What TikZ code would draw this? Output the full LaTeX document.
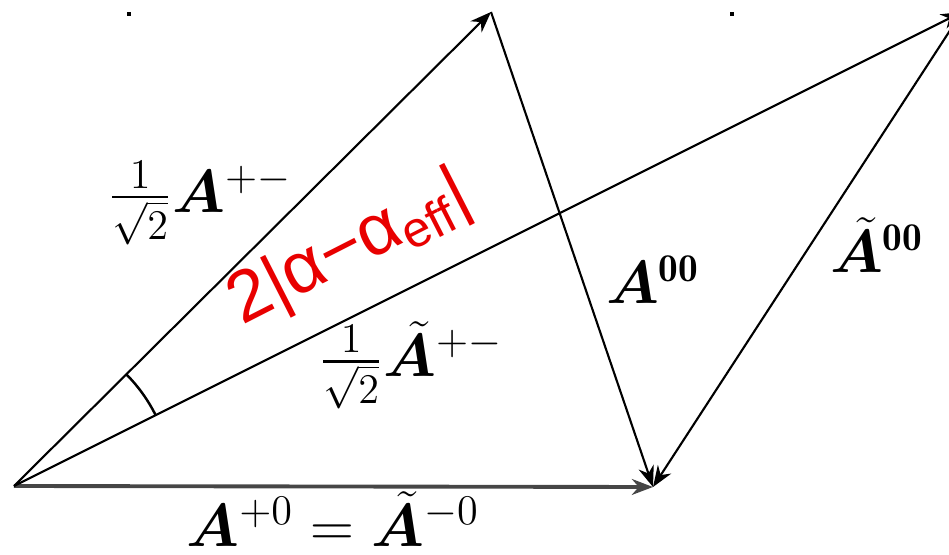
\documentclass[tikz,border=0pt]{standalone}
\usepackage{amsmath,amssymb,bm}
\usepackage{fontspec}
\newfontfamily\redsans{Liberation Sans}
\usetikzlibrary{arrows.meta}
\definecolor{anglered}{RGB}{232,0,0}
\tikzset{
  vec/.style={-{Stealth[length=6pt,width=4.5pt]}, line width=0.6pt},
  lbl/.style={inner sep=1pt, font=\fontsize{17}{20}\selectfont}
}
\begin{document}
\begin{tikzpicture}[x=0.01cm, y=-0.01cm]
        \clip (0,0) rectangle (949,555);
        % Vertices of the two triangles
        \coordinate (O) at (14,486);
        \coordinate (P) at (491,12);
        \coordinate (Q) at (962,12);
        \coordinate (R) at (653,487);
        % Amplitude vectors
        \draw[vec, gray!55!black, line width=1.1pt] (O) -- (R);
        \draw[vec] (O) -- (P);
        \draw[vec] (O) -- (Q);
        \draw[vec] (P) -- (R);
        \draw[vec] (Q) -- (R);
        % Angle between the two charged amplitudes
        \draw[line width=0.7pt] (126,374) arc[start angle=-45, end angle=-26.6, radius=158];
        % Small marks at the top
        \fill (127,12) rectangle (131,16);
        \fill (730,12) rectangle (734,16);
        % Labels
        \node[lbl] (aPM) at (200,203) {$\frac{1}{\sqrt{2}}\bm{A}^{+-}$};
        \node[lbl] (atPM) at (411,365) {$\frac{1}{\sqrt{2}}\tilde{\bm{A}}^{+-}$};
        \node[lbl, font=\fontsize{16}{19}\selectfont] (a00) at (653,280) {$\bm{A}^{\mathbf{00}}$};
        \node[lbl, font=\fontsize{16}{19}\selectfont] (at00) at (877,245) {$\tilde{\bm{A}}^{\mathbf{00}}$};
        \node[lbl, font=\fontsize{18.5}{21}\selectfont] (aP0) at (333,519) {$\bm{A}^{+0} = \tilde{\bm{A}}^{-0}$};
        % Angle label
        \node[rotate=27, text=anglered, inner sep=0pt, font=\redsans\fontsize{20.5}{24}\selectfont] (alpha) at (350,250) {2|α−α\textsubscript{eff}|};
      \end{tikzpicture}
\end{document}
